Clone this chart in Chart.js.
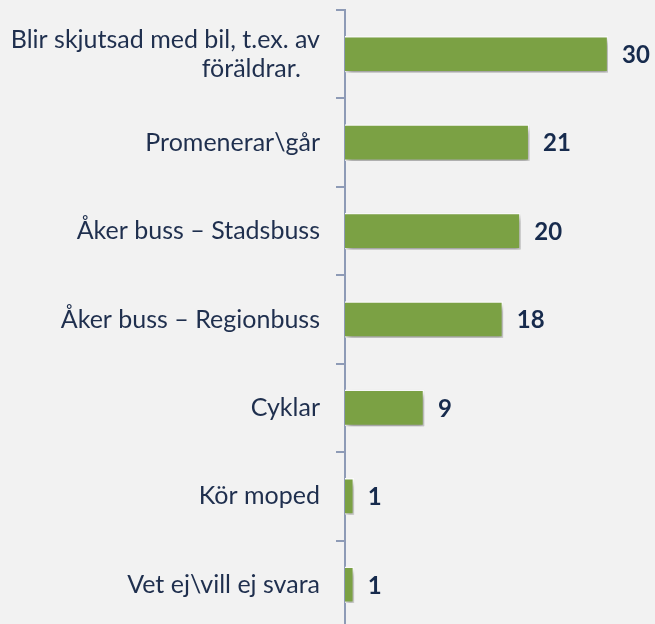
<!DOCTYPE html>
<html>
<head>
<meta charset="utf-8">
<script src="https://cdn.jsdelivr.net/npm/chart.js@4/dist/chart.umd.min.js"></script>
<style>
  html, body { margin: 0; padding: 0; background: #f2f2f2; overflow: hidden; }
  #wrap { width: 655px; height: 629px; position: relative; }
</style>
</head>
<body>
<div id="wrap"><canvas id="c"></canvas></div>
<script>
const categories = [
  ["Blir skjutsad med bil, t.ex. av", "föräldrar.   "],
  "Promenerar\\går",
  "Åker buss – Stadsbuss",
  "Åker buss – Regionbuss",
  "Cyklar",
  "Kör moped",
  "Vet ej\\vill ej svara"
];
const values = [30, 21, 20, 18, 9, 1, 1];

const FONT = "Lato, 'Open Sans', sans-serif";

const shadowPlugin = {
  id: 'barShadow',
  beforeDatasetDraw(chart) {
    const ctx = chart.ctx;
    ctx.save();
    ctx.shadowColor = 'rgba(0,0,0,0.4)';
    ctx.shadowBlur = 6;
    ctx.shadowOffsetX = 2;
    ctx.shadowOffsetY = 4;
  },
  afterDatasetDraw(chart) {
    chart.ctx.restore();
  }
};

const valueLabelPlugin = {
  id: 'valueLabels',
  afterDatasetsDraw(chart) {
    const ctx = chart.ctx;
    const meta = chart.getDatasetMeta(0);
    ctx.save();
    ctx.font = "bold 24px " + FONT;
    ctx.fillStyle = '#172b4d';
    ctx.textAlign = 'left';
    ctx.textBaseline = 'middle';
    meta.data.forEach((bar, i) => {
      ctx.fillText(String(chart.data.datasets[0].data[i]), bar.x + 14, bar.y + 1);
    });
    ctx.restore();
  }
};

new Chart(document.getElementById('c'), {
  type: 'bar',
  data: {
    labels: categories,
    datasets: [{
      data: values,
      backgroundColor: '#7ba144',
      borderColor: '#ffffff',
      borderWidth: 1.5,
      borderSkipped: 'left',
      barThickness: 36
    }]
  },
  options: {
    indexAxis: 'y',
    responsive: true,
    maintainAspectRatio: false,
    animation: false,
    layout: { padding: { top: 10, right: 47, bottom: 0, left: 0 } },
    plugins: {
      legend: { display: false },
      tooltip: { enabled: false }
    },
    scales: {
      x: {
        display: false,
        min: 0,
        max: 30
      },
      y: {
        afterFit(scale) {
          scale.width = 345;
          scale.paddingTop = 0;
          scale.paddingBottom = 0;
        },
        border: { display: true, color: '#8e9bb6', width: 2 },
        grid: {
          display: true,
          offset: true,
          drawOnChartArea: false,
          drawTicks: true,
          tickLength: 9,
          color: '#8e9bb6',
          lineWidth: 2
        },
        ticks: {
          padding: 16,
          color: '#1f2f4e',
          font: { family: FONT, size: 25, lineHeight: 1.16 }
        }
      }
    }
  },
  plugins: [shadowPlugin, valueLabelPlugin]
});
</script>
</body>
</html>
